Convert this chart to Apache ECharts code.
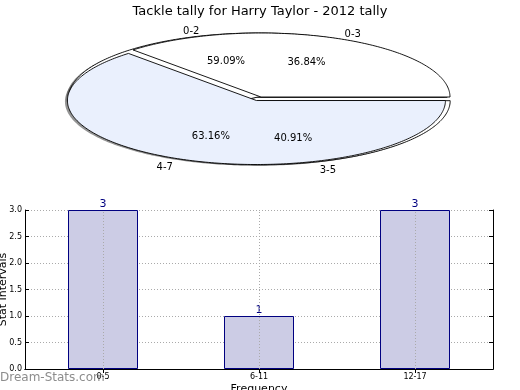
<!DOCTYPE html>
<html>
<head>
<meta charset="utf-8">
<script src="https://cdn.jsdelivr.net/npm/echarts@6/dist/echarts.min.js"></script>
<style>html,body{margin:0;padding:0;background:#fff}#c{width:520px;height:390px}</style>
</head>
<body>
<div id="c"></div>
<script>
// ---- data ----
var titleText = 'Tackle tally for Harry Taylor - 2012 tally';
var pieALabels = ['0-2', '3-5'];
var pieAValues = [59.09, 40.91];
var pieBLabels = ['0-3', '4-7'];
var pieBValues = [36.84, 63.16];
var barCategories = ['0-5', '6-11', '12-17'];
var barValues = [3, 1, 3];
var yTickLabels = ['0.0', '0.5', '1.0', '1.5', '2.0', '2.5', '3.0'];

var FONT = 'DejaVu Sans';
var chart = echarts.init(document.getElementById('c'), null, {renderer: 'canvas'});

function makePieRender(labels, values, colors, explode, cx, cy, rx, ry) {
  var total = values.reduce(function (a, b) { return a + b; }, 0);
  return function (params, api) {
    var i = params.dataIndex;
    var start = 0;
    for (var k = 0; k < i; k++) start += values[k] / total * 360;
    var end = start + values[i] / total * 360;
    var mid = (start + end) / 2 * Math.PI / 180;
    var ex = explode[i];
    var ox = cx + ex * rx * Math.cos(mid);
    var oy = cy - ex * ry * Math.sin(mid);
    function pts(dx, dy) {
      var p = [[ox + dx, oy + dy]];
      var steps = Math.max(2, Math.ceil(end - start));
      for (var s = 0; s <= steps; s++) {
        var a = (start + (end - start) * s / steps) * Math.PI / 180;
        p.push([ox + dx + rx * Math.cos(a), oy + dy - ry * Math.sin(a)]);
      }
      return p;
    }
    var pct = values[i].toFixed(2) + '%';
    var lx = ox + 1.1 * rx * Math.cos(mid), ly = oy - 1.1 * ry * Math.sin(mid) + 2;
    var px = ox + 0.6 * rx * Math.cos(mid), py = oy - 0.6 * ry * Math.sin(mid) + 1;
    return {
      type: 'group',
      children: [
        {type: 'polygon', z2: 0, shape: {points: pts(-2.5, 1)}, style: {fill: 'rgba(60,60,60,0.55)', stroke: null}},
        {type: 'polygon', z2: params.seriesIndex + 1, shape: {points: pts(0, 0)}, style: {fill: colors[i], stroke: '#000', lineWidth: 0.9, lineJoin: 'miter'}},
        {type: 'text', z2: 10, style: {text: labels[i], x: lx, y: ly, fill: '#000', font: '10px "' + FONT + '"',
          align: Math.cos(mid) < 0 ? 'right' : 'left', verticalAlign: 'middle'}},
        {type: 'text', z2: 10, style: {text: pct, x: px, y: py, fill: '#000', font: '10px "' + FONT + '"',
          align: 'center', verticalAlign: 'middle'}}
      ]
    };
  };
}

var option = {
  animation: false,
  backgroundColor: '#fff',
  title: {text: titleText, left: 'center', top: 0,
    textStyle: {fontFamily: FONT, fontSize: 13, fontWeight: 'normal', color: '#000'}},
  graphic: [
    {type: 'text', left: 0, top: 372, z: 100,
     style: {text: 'Dream-Stats.com', fill: 'rgba(120,120,120,0.85)', font: '12px "' + FONT + '"'}}
  ],
  grid: {left: 25, right: 27, top: 210, bottom: 21, containLabel: false, outerBoundsMode: 'none'},
  xAxis: [
    {type: 'category', data: barCategories, position: 'bottom',
     name: 'Frequency', nameLocation: 'middle', nameGap: 15, nameMoveOverlap: false,
     nameTextStyle: {fontFamily: FONT, fontSize: 11, color: '#000', verticalAlign: 'top'},
     axisLine: {show: true, lineStyle: {color: '#000', width: 1}},
     axisTick: {show: true, inside: true, alignWithLabel: true, length: 4, lineStyle: {color: '#000'}},
     axisLabel: {fontFamily: FONT, fontSize: 8, color: '#000', margin: 4},
     splitLine: {show: false}},
    {type: 'category', data: barCategories, position: 'top',
     axisLine: {show: true, lineStyle: {color: '#000', width: 1}},
     axisTick: {show: true, inside: true, alignWithLabel: true, length: 4, lineStyle: {color: '#000'}},
     axisLabel: {show: false}, splitLine: {show: false}}
  ],
  yAxis: [
    {type: 'value', min: 0, max: 3, interval: 0.5, position: 'left',
     name: 'Stat Intervals', nameLocation: 'middle', nameGap: 16, nameRotate: 90, nameMoveOverlap: false,
     nameTextStyle: {fontFamily: FONT, fontSize: 11, color: '#000'},
     axisLine: {show: true, lineStyle: {color: '#000', width: 1}},
     axisTick: {show: true, inside: true, length: 4, lineStyle: {color: '#000'}},
     axisLabel: {fontFamily: FONT, fontSize: 8, color: '#000', margin: 3,
       formatter: function (v) { return yTickLabels[Math.round(v / 0.5)]; }},
     splitLine: {show: true, lineStyle: {color: '#aaa', type: [1, 2], width: 1}}},
    {type: 'value', min: 0, max: 3, interval: 0.5, position: 'right',
     axisLine: {show: true, lineStyle: {color: '#000', width: 1}},
     axisTick: {show: true, inside: true, length: 4, lineStyle: {color: '#000'}},
     axisLabel: {show: false}, splitLine: {show: false}}
  ],
  series: [
    {type: 'custom', coordinateSystem: 'none', data: pieAValues,
     renderItem: makePieRender(pieALabels, pieAValues, ['#ffffff', '#ffffff'], [0, 0.06], 258, 97, 189, 64)},
    {type: 'custom', coordinateSystem: 'none', data: pieBValues,
     renderItem: makePieRender(pieBLabels, pieBValues, ['#ffffff', '#eaf0fd'], [0, 0.06], 261, 97, 189, 64)},
    {type: 'bar', xAxisIndex: 0, yAxisIndex: 0, data: barValues, barWidth: 70,
     itemStyle: {color: '#ccccE5', borderColor: '#000080', borderWidth: 1},
     label: {show: true, position: 'top', distance: 0, color: '#000080', fontFamily: FONT, fontSize: 11},
     markLine: {silent: true, symbol: 'none', label: {show: false},
       lineStyle: {color: '#aaa', type: [1, 2], width: 1},
       data: barCategories.map(function (c) { return {xAxis: c}; })},
     z: 2}
  ]
};
chart.setOption(option);
</script>
</body>
</html>
